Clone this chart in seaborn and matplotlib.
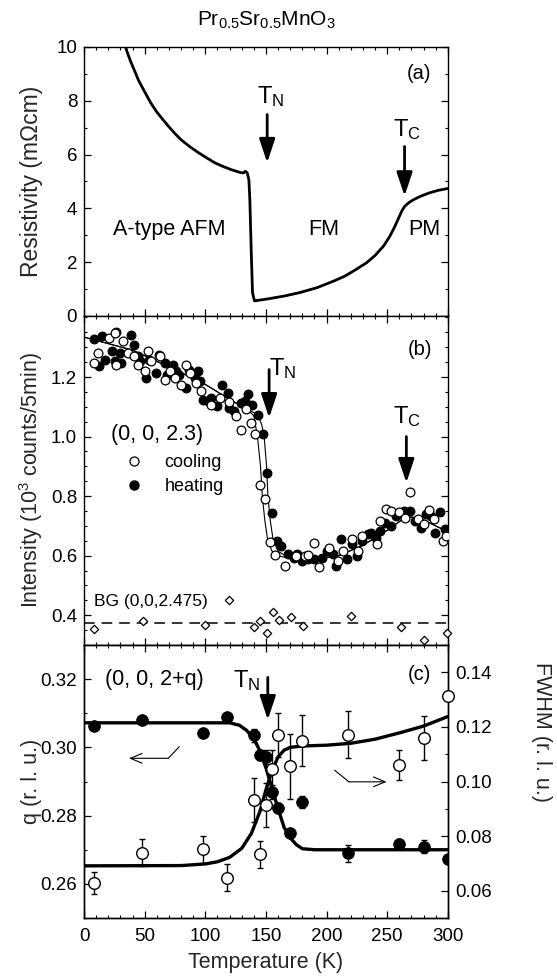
import numpy as np
import pandas as pd
import seaborn as sns
import matplotlib.pyplot as plt
from matplotlib.lines import Line2D
from matplotlib.ticker import MultipleLocator

# ---------------------------------------------------------------------------
# data
# ---------------------------------------------------------------------------
# (a) resistivity
rho_T = [33.5, 36, 38.5, 41.2, 45, 50, 55, 60, 65, 70, 75, 80, 87, 94, 101,
         108, 115, 122, 129, 131.5, 133, 134.5, 135.9, 136.7, 137.8, 138.9,
         140.5, 151, 165, 178, 192, 206, 215, 224, 233, 240, 247, 252, 256,
         259, 262, 264.5, 268, 272, 278, 285, 292, 300]
rho_R = [10.1, 9.75, 9.45, 9.16, 8.75, 8.33, 7.92, 7.58, 7.30, 7.03, 6.78,
         6.55, 6.30, 6.08, 5.88, 5.69, 5.55, 5.43, 5.33, 5.32, 5.38, 5.32,
         5.07, 4.33, 2.48, 0.87, 0.56, 0.63, 0.74, 0.87, 1.05, 1.30, 1.48,
         1.72, 1.98, 2.25, 2.60, 2.95, 3.30, 3.60, 3.90, 4.08, 4.22, 4.33,
         4.46, 4.58, 4.67, 4.74]

# (b) intensity (0,0,2.3)
cool_T = [8.5, 11.1, 20.2, 25.4, 26.7, 31.9, 35.8, 40.9, 44.3, 50.0, 53.1, 55.2,
          62.4, 66.8, 70.7, 74.6, 79.8, 83.7, 87.6, 92.7, 96.6, 104.4, 112.2,
          119.4, 125.1, 129.8, 133.4, 137.6, 141.2, 145.3, 149.0, 153.6, 157.5,
          165.3, 174.4, 182.1, 184.7, 189.4, 193.8, 201.6, 209.3, 213.2, 221.0,
          226.2, 228.8, 241.7, 244.3, 249.0, 253.4, 259.8, 265.0, 268.9, 275.4,
          280.6, 284.5, 288.3, 296.1, 298.7]
cool_I = [1.247, 1.280, 1.331, 1.347, 1.241, 1.320, 1.280, 1.269, 1.241, 1.219,
          1.289, 1.253, 1.269, 1.191, 1.219, 1.197, 1.174, 1.241, 1.213, 1.180,
          1.152, 1.107, 1.130, 1.115, 1.068, 1.023, 1.091, 1.046, 1.007, 0.839,
          0.789, 0.646, 0.601, 0.565, 0.599, 0.599, 0.601, 0.644, 0.563, 0.627,
          0.582, 0.616, 0.655, 0.616, 0.666, 0.638, 0.716, 0.758, 0.750, 0.747,
          0.727, 0.815, 0.722, 0.705, 0.755, 0.722, 0.649, 0.666]
heat_T = [8.0, 12.4, 15.0, 17.6, 22.8, 26.7, 25.4, 30.6, 29.3, 38.3, 40.9, 44.8,
          46.1, 51.3, 53.9, 59.1, 61.7, 66.8, 68.1, 73.3, 75.9, 78.5, 83.7, 86.3,
          91.5, 94.0, 95.3, 97.9, 101.8, 104.4, 109.6, 113.5, 118.7, 119.9, 123.8,
          129.0, 132.9, 135.0, 138.1, 143.3, 147.2, 150.5, 154.9, 158.8, 162.7,
          167.9, 173.1, 175.6, 179.5, 184.7, 189.9, 196.4, 200.3, 205.4, 208.0,
          211.9, 217.1, 221.0, 224.9, 228.8, 233.9, 236.5, 240.4, 244.3, 248.2,
          253.4, 257.3, 263.7, 268.9, 272.8, 278.0, 281.9, 285.8, 289.6, 293.5,
          297.4]
heat_I = [1.327, 1.236, 1.339, 1.258, 1.286, 1.350, 1.253, 1.247, 1.280, 1.342,
          1.308, 1.269, 1.253, 1.197, 1.258, 1.213, 1.275, 1.247, 1.208, 1.241,
          1.219, 1.208, 1.163, 1.225, 1.197, 1.219, 1.185, 1.124, 1.118, 1.130,
          1.104, 1.174, 1.146, 1.096, 1.085, 1.113, 1.118, 1.144, 1.107, 1.074,
          1.007, 0.876, 0.744, 0.649, 0.632, 0.604, 0.593, 0.604, 0.582, 0.588,
          0.588, 0.593, 0.616, 0.604, 0.565, 0.655, 0.588, 0.638, 0.599, 0.649,
          0.672, 0.677, 0.660, 0.683, 0.711, 0.699, 0.733, 0.750, 0.750, 0.716,
          0.694, 0.739, 0.733, 0.677, 0.747, 0.691]
fit_cool_T = [0, 40, 80, 100, 120, 135, 140, 143, 145.5, 147, 149, 151.5, 155,
              160, 170, 190, 210, 230, 250, 262, 270, 280, 290, 300]
fit_cool_I = [1.334, 1.29, 1.215, 1.175, 1.125, 1.09, 1.07, 1.0, 0.9, 0.80, 0.72,
              0.65, 0.615, 0.60, 0.59, 0.588, 0.60, 0.635, 0.685, 0.72, 0.73,
              0.72, 0.70, 0.68]
fit_heat_T = [0, 40, 80, 100, 120, 135, 143, 146.5, 148.5, 150.5, 151.6, 153.5,
              156, 160, 166, 175, 190, 210, 230, 250, 262, 270, 280, 290, 300]
fit_heat_I = [1.334, 1.29, 1.215, 1.175, 1.125, 1.09, 1.075, 1.04, 1.0, 0.9,
              0.80, 0.72, 0.65, 0.615, 0.60, 0.59, 0.588, 0.60, 0.635, 0.685,
              0.72, 0.73, 0.72, 0.70, 0.68]
bg_T = [8.0, 48.7, 99.7, 119.9, 140.2, 145.3, 151.0, 155.7, 160.9, 170.5, 180.8,
        220.5, 261.1, 280.6, 299.5]
bg_I = [0.353, 0.379, 0.368, 0.451, 0.359, 0.381, 0.340, 0.412, 0.384, 0.394,
        0.364, 0.398, 0.362, 0.317, 0.342]
bg_level = 0.373

# (c) q and FWHM of (0,0,2+q)
c_T = [8, 48, 98, 118, 140, 145, 150, 155, 160, 170, 180, 218, 260, 280, 300]
q_val = [0.3062, 0.3081, 0.3042, 0.3089, 0.3035, 0.2977, 0.2972, 0.2870,
         0.2823, 0.2750, 0.2840, 0.2689, 0.2716, 0.2709, 0.2674]
q_err = [0.0005, 0.0005, 0.0005, 0.0005, 0.002, 0.0015, 0.002, 0.002, 0.0015,
         0.001, 0.0018, 0.0025, 0.0015, 0.002, 0.001]
fwhm_val = [0.0628, 0.0739, 0.0752, 0.0648, 0.0932, 0.0733, 0.0914, 0.1047,
            0.1170, 0.1055, 0.1150, 0.1172, 0.1059, 0.1160, 0.1314]
fwhm_err = [0.004, 0.005, 0.005, 0.005, 0.008, 0.005, 0.008, 0.007, 0.008,
            0.012, 0.0095, 0.0085, 0.0055, 0.008, 0.0]
qfit_T = [0, 120, 128, 134, 140, 145, 150, 155, 160, 165, 170, 175, 180, 190, 300]
qfit_v = [0.3072, 0.3072, 0.3065, 0.3050, 0.3025, 0.2990, 0.2940, 0.2880,
          0.2820, 0.2765, 0.2735, 0.2715, 0.2703, 0.2700, 0.2700]
wfit_T = [0, 80, 100, 110, 120, 130, 138, 145, 150, 155, 160, 165, 170, 180,
          200, 220, 240, 260, 280, 300]
wfit_v = [0.0691, 0.0692, 0.0698, 0.0706, 0.0722, 0.0755, 0.0810, 0.0890,
          0.0970, 0.1040, 0.1090, 0.1115, 0.1125, 0.1130, 0.1133, 0.1140,
          0.1155, 0.1178, 0.1203, 0.1238]

# ---------------------------------------------------------------------------
# style
# ---------------------------------------------------------------------------
sns.set_style('ticks')
plt.rcParams['font.family'] = ['Liberation Sans', 'DejaVu Sans']
plt.rcParams.update({
    'mathtext.default': 'regular',
    'font.size': 14,
    'axes.linewidth': 1.0,
    'xtick.direction': 'in', 'ytick.direction': 'in',
    'xtick.top': True, 'ytick.right': True,
    'xtick.major.size': 5, 'ytick.major.size': 5,
    'xtick.minor.size': 2.5, 'ytick.minor.size': 2.5,
    'xtick.major.width': 0.9, 'ytick.major.width': 0.9,
    'xtick.minor.width': 0.8, 'ytick.minor.width': 0.8,
    'xtick.major.pad': 7, 'ytick.major.pad': 5,
    'xtick.labelsize': 13.5, 'ytick.labelsize': 13.5,
    'xtick.color': 'black', 'ytick.color': 'black',
    'axes.edgecolor': 'black', 'text.color': 'black',
})

fig = plt.figure(figsize=(5.57, 9.77), dpi=100)
L, W = 0.151, 0.653
ax_a = fig.add_axes([L, 0.6766, W, 0.2753])
ax_b = fig.add_axes([L, 0.3398, W, 0.3368])
ax_c = fig.add_axes([L, 0.0604, W, 0.2794])

arrow_kw = dict(arrowstyle='-|>,head_length=0.9,head_width=0.3', color='k',
                lw=2, shrinkA=0, shrinkB=0, mutation_scale=16)
txt = 15.5
lab = 15.5

# ---------------------------------------------------------------------------
# (a) resistivity
# ---------------------------------------------------------------------------
sns.lineplot(x=rho_T, y=rho_R, sort=False, estimator=None, color='k', lw=2,
             ax=ax_a)
ax_a.set_ylim(0, 10)
ax_a.yaxis.set_major_locator(MultipleLocator(2))
ax_a.yaxis.set_minor_locator(MultipleLocator(1))
ax_a.set_ylabel('Resistivity (m\u03a9cm)', fontsize=16.5)
ax_a.set_title('Pr$_{0.5}$Sr$_{0.5}$MnO$_3$', fontsize=15, pad=15)
ax_a.text(70, 3.2, 'A-type AFM', ha='center', va='center', fontsize=txt)
ax_a.text(197.6, 3.2, 'FM', ha='center', va='center', fontsize=txt)
ax_a.text(281, 3.2, 'PM', ha='center', va='center', fontsize=txt)
ax_a.text(276, 9.0, '(a)', ha='center', va='center', fontsize=14.5)
ax_a.text(153.7, 8.17, 'T$_N$', ha='center', va='center', fontsize=17)
ax_a.text(266, 6.93, 'T$_C$', ha='center', va='center', fontsize=17)
ax_a.annotate('', xy=(151, 5.7), xytext=(151, 7.49), arrowprops=arrow_kw)
ax_a.annotate('', xy=(264.3, 4.46), xytext=(264.3, 6.3), arrowprops=arrow_kw)

# ---------------------------------------------------------------------------
# (b) intensity
# ---------------------------------------------------------------------------
sns.lineplot(x=fit_cool_T, y=fit_cool_I, sort=False, estimator=None, color='k',
             lw=0.8, ax=ax_b)
sns.lineplot(x=fit_heat_T, y=fit_heat_I, sort=False, estimator=None, color='k',
             lw=0.8, ax=ax_b)
ax_b.axhline(bg_level, color='k', lw=1.1, ls=(0, (7, 4.5)))
sns.scatterplot(x=heat_T, y=heat_I, color='black', edgecolor='black',
                linewidth=0.8, s=40, ax=ax_b, zorder=3)
sns.scatterplot(x=cool_T, y=cool_I, color='white', edgecolor='black',
                linewidth=0.9, s=40, ax=ax_b, zorder=3)
sns.scatterplot(x=bg_T, y=bg_I, marker='D', color='white', edgecolor='black',
                linewidth=0.9, s=18, ax=ax_b, zorder=3, clip_on=False)
ax_b.set_ylim(0.3, 1.405)
ax_b.set_yticks([0.4, 0.6, 0.8, 1.0, 1.2])
ax_b.yaxis.set_minor_locator(MultipleLocator(0.05))
ax_b.set_ylabel('Intensity (10$^3$ counts/5min)', fontsize=lab)
ax_b.text(276.7, 1.294, '(b)', ha='center', va='center', fontsize=14.5)
ax_b.text(60.4, 1.007, '(0, 0, 2.3)', ha='center', va='center', fontsize=txt)
ax_b.text(8.5, 0.446, 'BG (0,0,2.475)', ha='left', va='center', fontsize=12.5)
ax_b.text(164, 1.23, 'T$_N$', ha='center', va='center', fontsize=17)
ax_b.text(266, 1.068, 'T$_C$', ha='center', va='center', fontsize=17)
ax_b.annotate('', xy=(152.6, 1.063), xytext=(152.6, 1.225), arrowprops=arrow_kw)
ax_b.annotate('', xy=(265.8, 0.845), xytext=(265.8, 1.0), arrowprops=arrow_kw)
handles = [Line2D([], [], ls='', marker='o', mfc='white', mec='black', mew=0.9, ms=6.5),
           Line2D([], [], ls='', marker='o', mfc='black', mec='black', ms=6.5)]
ax_b.legend(handles, ['cooling', 'heating'], loc='upper left',
            bbox_to_anchor=(0.112, 0.58), frameon=False, fontsize=13,
            handlelength=1.0, handletextpad=1.2, labelspacing=0.4,
            borderpad=0, borderaxespad=0)

# ---------------------------------------------------------------------------
# (c) q and FWHM
# ---------------------------------------------------------------------------
ax_w = ax_c.twinx()
sns.lineplot(x=qfit_T, y=qfit_v, sort=False, estimator=None, color='k', lw=2.4,
             ax=ax_c)
ax_c.errorbar(c_T, q_val, yerr=q_err, fmt='none', ecolor='k', elinewidth=1,
              capsize=2.5, capthick=1)
sns.scatterplot(x=c_T, y=q_val, color='black', edgecolor='black', s=70,
                ax=ax_c, zorder=3)
sns.lineplot(x=wfit_T, y=wfit_v, sort=False, estimator=None, color='k', lw=2.4,
             ax=ax_w)
ax_w.errorbar(c_T, fwhm_val, yerr=fwhm_err, fmt='none', ecolor='k', elinewidth=1,
              capsize=2.5, capthick=1)
sns.scatterplot(x=c_T, y=fwhm_val, color='white', edgecolor='black',
                linewidth=1.0, s=70, ax=ax_w, zorder=3, clip_on=False)

ax_c.set_ylim(0.25, 0.33)
ax_c.set_yticks([0.26, 0.28, 0.30, 0.32])
ax_c.yaxis.set_minor_locator(MultipleLocator(0.01))
ax_c.tick_params(axis='y', which='both', right=False)
ax_c.set_ylabel('q (r. l. u.)', fontsize=lab)
ax_w.set_ylim(0.05, 0.15)
ax_w.set_yticks([0.06, 0.08, 0.10, 0.12, 0.14])
ax_w.yaxis.set_minor_locator(MultipleLocator(0.01))
ax_w.tick_params(axis='y', which='both', direction='in', right=True, left=False)
ax_w.tick_params(axis='x', which='both', top=False, bottom=False)
ax_w.set_ylabel('FWHM (r. l. u.)', fontsize=lab, rotation=270, va='center',
                ha='center')
ax_w.yaxis.set_label_coords(1.258, 0.68)

ax_c.text(57.8, 0.3200, '(0, 0, 2+q)', ha='center', va='center', fontsize=txt)
ax_c.text(276.7, 0.3215, '(c)', ha='center', va='center', fontsize=14.5)
ax_c.text(134, 0.3195, 'T$_N$', ha='center', va='center', fontsize=17)
ax_c.annotate('', xy=(151.5, 0.3081), xytext=(151.5, 0.3205), arrowprops=arrow_kw)
thin = dict(arrowstyle='->,head_length=0.6,head_width=0.25', color='k', lw=0.8,
            shrinkA=0, shrinkB=0, mutation_scale=14)
ax_c.plot([78.5, 69.4], [0.3002, 0.2968], color='k', lw=0.8)
ax_c.annotate('', xy=(37, 0.2968), xytext=(69.4, 0.2968), arrowprops=thin)
ax_c.plot([206.7, 218.4], [0.2933, 0.2899], color='k', lw=0.8)
ax_c.annotate('', xy=(249.5, 0.2899), xytext=(218.4, 0.2899), arrowprops=thin)

# ---------------------------------------------------------------------------
# shared x axis
# ---------------------------------------------------------------------------
for ax in (ax_a, ax_b, ax_c):
    ax.set_xlim(0, 300)
    ax.xaxis.set_major_locator(MultipleLocator(50))
    ax.xaxis.set_minor_locator(MultipleLocator(10))
    ax.tick_params(which='both', direction='in', top=True)
    ax.yaxis.label.set_va('center')
    ax.yaxis.set_label_coords(-0.145, 0.5)
ax_a.tick_params(labelbottom=False)
ax_b.tick_params(labelbottom=False)
ax_c.set_xlabel('Temperature (K)', fontsize=lab, labelpad=5)

plt.savefig('out.png', dpi=100)
